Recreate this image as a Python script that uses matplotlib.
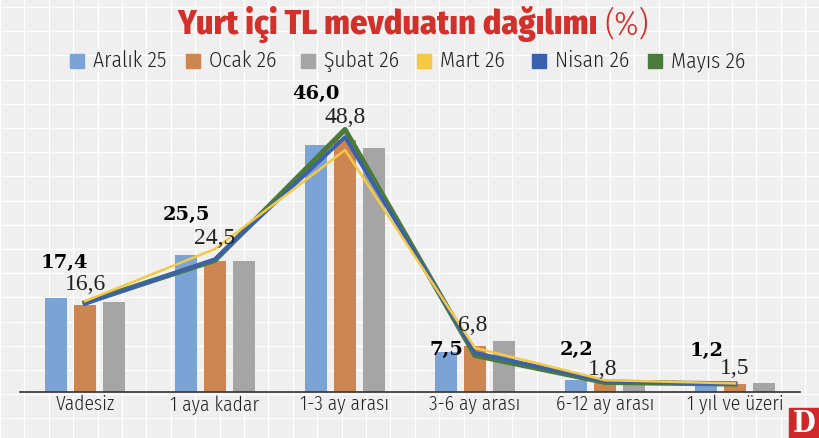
import numpy as np
import matplotlib
matplotlib.use("Agg")
import matplotlib.pyplot as plt
from matplotlib.patches import Rectangle

# data (percent)
categories = ["Vadesiz", "1 aya kadar", "1-3 ay arası", "3-6 ay arası", "6-12 ay arası", "1 yıl ve üzeri"]
aralik_25 = [17.4, 25.5, 46.0, 7.5, 2.2, 1.2]
ocak_26 = [16.1, 24.3, 46.8, 8.5, 1.7, 1.5]
subat_26 = [16.7, 24.3, 45.3, 9.5, 1.3, 1.7]
mart_26 = [16.9, 26.6, 45.0, 8.2, 2.2, 1.6]
nisan_26 = [16.4, 24.7, 47.4, 7.3, 2.0, 1.5]
mayis_26 = [16.6, 24.5, 48.8, 6.8, 1.8, 1.5]

bar_series = [("Aralık 25", aralik_25, "#7ca3d6"),
              ("Ocak 26", ocak_26, "#cd8651"),
              ("Şubat 26", subat_26, "#a5a5a5")]
line_series = [("Mayıs 26", mayis_26, "#4c7b39", 3.8),
               ("Nisan 26", nisan_26, "#3a61ad", 2.7),
               ("Mart 26", mart_26, "#f6c944", 1.8)]
legend_names = ["Aralık 25", "Ocak 26", "Şubat 26", "Mart 26", "Nisan 26", "Mayıs 26"]
legend_colors = ["#7ca3d6", "#cd8651", "#a5a5a5", "#f6c944", "#3a61ad", "#4c7b39"]

# hand placed label offsets (pixels)
bold_off = [(8, 35), (0, 40), (0, 51), (0, 2), (0, 30), (0, 35)]
norm_off = [(1, 18), (0, 22), (0, 12), (-2, 30), (-2, 13), (0, 15)]

W, H = 820, 438
fig = plt.figure(figsize=(W / 100, H / 100), dpi=100)
fig.patch.set_facecolor("#efefef")

sans = ["Fira Sans Condensed", "DejaVu Sans"]
light = dict(family=sans, stretch="condensed", weight=300)

# graph paper background
bg = fig.add_axes([0, 0, 1, 1], zorder=0)
bg.set_xlim(0, W)
bg.set_ylim(H, 0)
bg.axis("off")
for gx in np.arange(0, W, 24.4):
    bg.axvline(gx, color="white", lw=0.9)
for gy in np.arange(7, H, 24.2):
    bg.axhline(gy, color="white", lw=0.9)
bg.add_patch(Rectangle((789, 408), 31, 30, color="#d0282a", zorder=3))
bg.text(804.5, 424, "D", color="white", fontsize=21, fontweight="bold",
        family="DejaVu Serif", stretch="condensed", ha="center", va="center", zorder=4)

# legend drawn as squares + text
for i, (name, col) in enumerate(zip(legend_names, legend_colors)):
    tx = 93 + 115.6 * i
    bg.add_patch(Rectangle((tx - 23, 54), 14, 14, color=col, zorder=3))
    bg.text(tx, 61, name, fontsize=15.5, color="#222222", ha="left", va="center",
            zorder=4, **light)

ax = fig.add_axes([20 / W, 46 / H, 780 / W, 292 / H], zorder=2)
ax.patch.set_alpha(0)
x = np.arange(len(categories))
step, bw = 0.22, 0.17
for i, (name, vals, col) in enumerate(bar_series):
    ax.bar(x + (i - 1) * step, vals, bw, color=col, zorder=2, label=name)
for name, vals, col, lw in line_series:
    ax.plot(x, vals, color=col, lw=lw, zorder=3, label=name)

ax.set_xlim(-0.5, len(categories) - 0.5)
ax.set_ylim(0, 54.3)
ax.set_yticks([])
ax.set_xticks(x)
ax.set_xticklabels(categories, fontsize=14, color="#222222", **light)
ax.tick_params(axis="x", length=0, pad=2)
for s in ["top", "right", "left"]:
    ax.spines[s].set_visible(False)
ax.spines["bottom"].set_color("#333333")
ax.spines["bottom"].set_linewidth(1.2)

for i in range(len(categories)):
    ax.annotate(f"{aralik_25[i]:.1f}".replace(".", ","), (x[i] - step, aralik_25[i]),
                xytext=bold_off[i], textcoords="offset pixels", ha="center", va="center",
                fontsize=14, fontweight="bold", family="DejaVu Serif", zorder=5,
                annotation_clip=False)
    ax.annotate(f"{mayis_26[i]:.1f}".replace(".", ","), (x[i], mayis_26[i]),
                xytext=norm_off[i], textcoords="offset pixels", ha="center", va="center",
                fontsize=17, family="Liberation Serif", color="#222222", zorder=5,
                annotation_clip=False)

# title
fig.text(598 / W, 1 - 34 / H, "Yurt içi TL mevduatın dağılımı", color="#d2302b",
         fontsize=24.5, family=sans, stretch="condensed", weight=800,
         ha="right", va="baseline")
fig.text(604 / W, 1 - 34 / H, "(%)", color="#d2302b", fontsize=24.5,
         family=sans, stretch="condensed", weight=300, ha="left", va="baseline")

fig.savefig("out.png", dpi=100, facecolor=fig.get_facecolor())
